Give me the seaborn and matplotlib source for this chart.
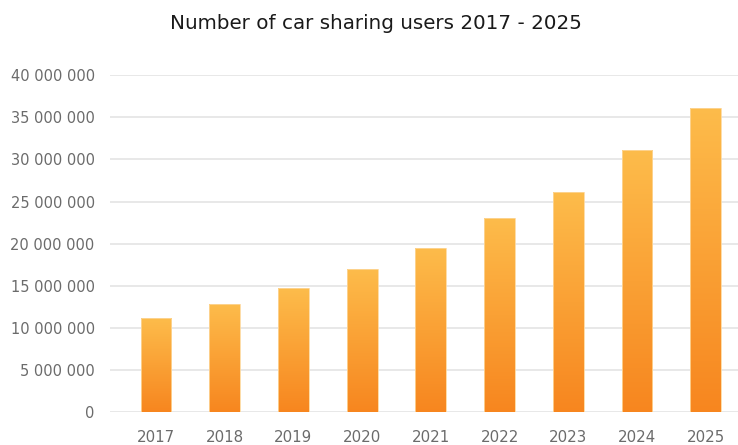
import numpy as np
import pandas as pd
import seaborn as sns
import matplotlib.pyplot as plt
from matplotlib.colors import LinearSegmentedColormap

years = ["2017", "2018", "2019", "2020", "2021", "2022", "2023", "2024", "2025"]
users = [11150000, 12800000, 14700000, 17000000, 19500000, 23100000, 26100000, 31100000, 36100000]
y_ticks = [0, 5000000, 10000000, 15000000, 20000000, 25000000, 30000000, 35000000, 40000000]

df = pd.DataFrame({"year": years, "users": users})

sns.set_theme(style="white")
plt.rcParams['font.family'] = ['DejaVu Sans']

fig = plt.figure(figsize=(7.38, 4.45), dpi=100)
ax = fig.add_axes([0.149, 0.074, 0.851, 0.757])

sns.barplot(data=df, x="year", y="users", color="#F9A030", width=0.45, ax=ax)

# vertical orange gradient inside each bar
grad = LinearSegmentedColormap.from_list("bar", ["#F7861F", "#FDBC4B"])
g = np.linspace(0, 1, 256).reshape(-1, 1)
for p in ax.patches:
    x0, y0 = p.get_x(), p.get_y()
    w, h = p.get_width(), p.get_height()
    im = ax.imshow(g, cmap=grad, aspect="auto", origin="lower",
                   extent=[x0, x0 + w, y0, y0 + h], zorder=3)
    im.set_clip_path(p)
    p.set_facecolor("none")
    p.set_edgecolor("#FDD79A")
    p.set_linewidth(0.6)
    p.set_zorder(4)

ax.set_xlim(-0.67, 8.47)
ax.set_ylim(0, 40000000)
ax.set_yticks(y_ticks)
ax.set_yticklabels([f"{v:,}".replace(",", " ") for v in y_ticks])
ax.yaxis.grid(True, color="#E8E8E8", linewidth=1.4)
ax.set_axisbelow(True)
for s in ax.spines.values():
    s.set_visible(False)
ax.tick_params(axis="y", length=0, pad=11, labelsize=10.5, labelcolor="#6B6B6B")
ax.tick_params(axis="x", length=0, pad=13, labelsize=10.8, labelcolor="#6B6B6B")
ax.set_xlabel("")
ax.set_ylabel("")

fig.text(0.51, 0.948, "Number of car sharing users 2017 - 2025",
         ha="center", va="center", fontsize=14.3, color="#1A1A1A")

fig.savefig("out.png", dpi=100)
